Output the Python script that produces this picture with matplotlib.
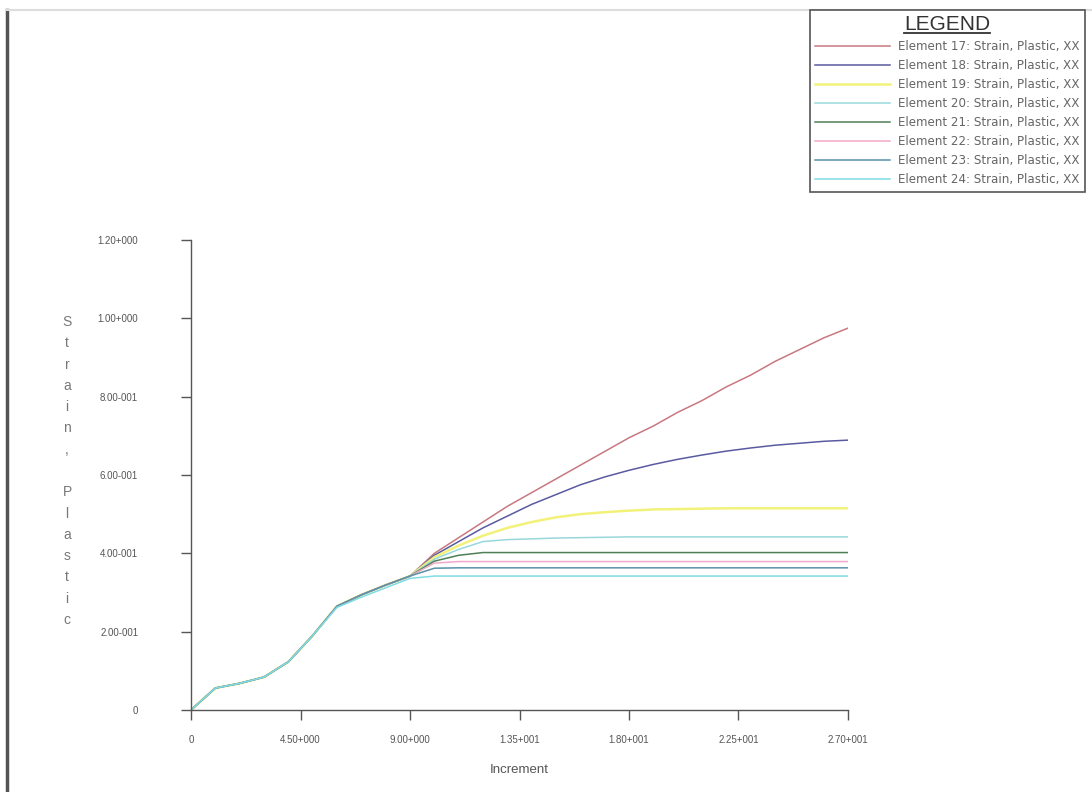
import matplotlib
matplotlib.use("Agg")
import matplotlib.pyplot as plt
from matplotlib.lines import Line2D
from matplotlib.ticker import FixedLocator

plt.rcParams['font.family'] = ['Liberation Sans', 'DejaVu Sans']

increment = list(range(28))

# shared path up to increment 9
base = [0.0, 0.056, 0.068, 0.084, 0.123, 0.19, 0.265, 0.294, 0.319, 0.342]

e17 = base + [0.40, 0.44, 0.48, 0.52, 0.555, 0.59, 0.625, 0.66, 0.695, 0.725,
              0.76, 0.79, 0.825, 0.855, 0.89, 0.92, 0.95, 0.975]
e18 = base + [0.395, 0.43, 0.465, 0.495, 0.525, 0.55, 0.575, 0.595, 0.612, 0.627,
              0.64, 0.651, 0.661, 0.669, 0.676, 0.681, 0.686, 0.689]
e19 = base + [0.39, 0.42, 0.445, 0.465, 0.48, 0.492, 0.50, 0.505, 0.509, 0.512,
              0.513, 0.514, 0.515, 0.515, 0.515, 0.515, 0.515, 0.515]
e20 = base + [0.385, 0.41, 0.43, 0.435, 0.437, 0.439, 0.44, 0.441, 0.442, 0.442,
              0.442, 0.442, 0.442, 0.442, 0.442, 0.442, 0.442, 0.442]
e21 = base + [0.38, 0.395] + [0.402] * 16
e22 = base + [0.375] + [0.379] * 17
e23 = base + [0.362] + [0.363] * 17
e24 = base[:6] + [0.262, 0.288, 0.312, 0.336] + [0.342] * 18

series = [e17, e18, e19, e20, e21, e22, e23, e24]
labels = ["Element %d: Strain, Plastic, XX" % n for n in range(17, 25)]
colors = ['#c87880', '#5a5aa0', '#f2f27a', '#98d8dc', '#4f7f55', '#f2a8c8', '#5a90a8', '#80dce4']
widths = [1.1, 1.1, 1.8, 1.1, 1.1, 1.1, 1.1, 1.1]

xticks = [0, 4.5, 9.0, 13.5, 18.0, 22.5, 27.0]
xticklabels = ['0', '4.50+000', '9.00+000', '1.35+001', '1.80+001', '2.25+001', '2.70+001']
yticks = [0, 0.2, 0.4, 0.6, 0.8, 1.0, 1.2]
yticklabels = ['0', '2.00-001', '4.00-001', '6.00-001', '8.00-001', '1.00+000', '1.20+000']

W, H = 1092, 792
fig = plt.figure(figsize=(W / 100, H / 100), dpi=100)
ax = fig.add_axes([191 / W, 1 - 710 / H, (848 - 191) / W, (710 - 240) / H])

handles = []
for y, c, lw, lab in zip(series, colors, widths, labels):
    h, = ax.plot(increment, y, color=c, linewidth=lw, label=lab)
    handles.append(h)

ax.set_xlim(0, 27)
ax.set_ylim(0, 1.2)
ax.xaxis.set_major_locator(FixedLocator(xticks))
ax.yaxis.set_major_locator(FixedLocator(yticks))
ax.set_xticklabels(xticklabels)
ax.set_yticklabels(yticklabels)

for s in ['top', 'right']:
    ax.spines[s].set_visible(False)
for s in ['left', 'bottom']:
    ax.spines[s].set_color('#555555')
    ax.spines[s].set_linewidth(1.0)
ax.tick_params(axis='y', direction='out', length=7, width=1, color='#555555',
               pad=31, labelsize=7, labelcolor='#555555')
ax.tick_params(axis='x', direction='out', length=7, width=1, color='#555555',
               pad=11, labelsize=7, labelcolor='#555555')
ax.patch.set_alpha(0)

ax.set_xlabel('Increment', fontsize=9.5, color='#555555', labelpad=14)

# stacked vertical y label
fig.text(67 / W, 1 - 471 / H, '\n'.join(list('Strain, Plastic')), ha='center', va='center',
         fontsize=10, color='#777777', linespacing=1.66)

# outer frame lines
fig.add_artist(Line2D([7 / W, 7 / W], [0, 1 - 10 / H], color='#555555', linewidth=2.5))
fig.add_artist(Line2D([7 / W, 1], [1 - 10 / H, 1 - 10 / H], color='#dddddd', linewidth=1.5))

leg = fig.legend(handles=handles, labels=labels, loc='upper right',
                 bbox_to_anchor=(1085 / W, 1 - 10 / H), title='LEGEND',
                 prop={'family': 'DejaVu Sans', 'size': 8.6},
                 title_fontsize=15, frameon=True, fancybox=False,
                 edgecolor='#555555', framealpha=1, handlelength=6.3,
                 handletextpad=0.65, labelspacing=0.5, borderpad=0.45, borderaxespad=0)
leg.get_frame().set_linewidth(1.2)
for t in leg.get_texts():
    t.set_color('#666666')
leg.get_title().set_color('#333333')

# underline the legend title
fig.canvas.draw()
tb = leg.get_title().get_window_extent()
fig.add_artist(Line2D([tb.x0 / W, tb.x1 / W], [(tb.y0 + 1) / H, (tb.y0 + 1) / H],
                      color='#333333', linewidth=1.3, zorder=10))

fig.savefig('out.png', dpi=100)
